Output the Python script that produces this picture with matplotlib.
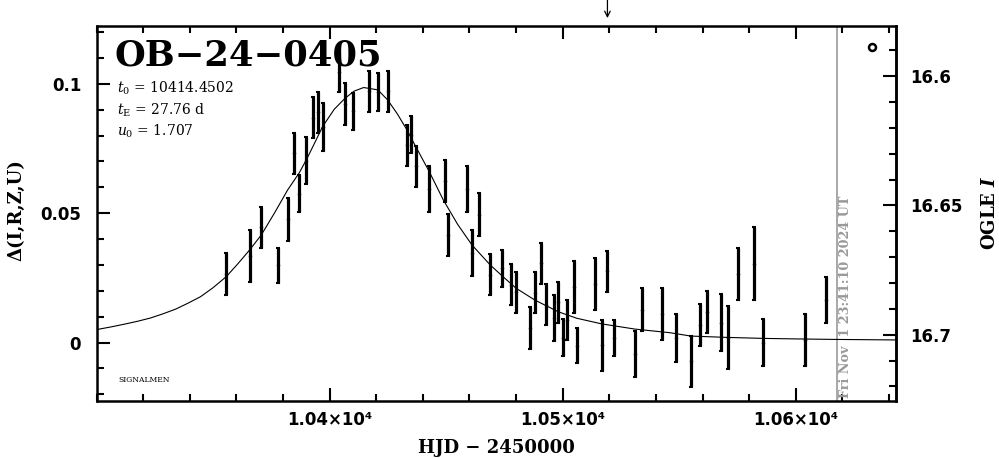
import matplotlib

matplotlib.use("Agg")
import matplotlib.pyplot as plt
from matplotlib.ticker import FixedLocator, MultipleLocator, FuncFormatter

# photometry (HJD - 2450000, delta flux, error)
hjd = [10355.7, 10365.7, 10370.7, 10377.9, 10382.0, 10384.9, 10386.9, 10390.0,
       10392.9, 10395.0, 10397.0, 10403.9, 10406.7, 10409.9, 10417.0, 10420.7,
       10424.9, 10433.2, 10434.9, 10437.0, 10442.8, 10449.3, 10451.0, 10459.1,
       10464.0, 10461.1, 10468.9, 10474.1, 10477.9, 10480.0, 10486.1, 10488.1,
       10490.8, 10492.7, 10496.1, 10498.1, 10500.0, 10502.0, 10504.8, 10506.0,
       10513.8, 10516.8, 10519.1, 10522.0, 10531.0, 10534.1, 10542.8, 10548.8,
       10555.0, 10559.1, 10562.1, 10568.1, 10571.0, 10575.0, 10582.1, 10586.0,
       10604.1, 10612.8]
delta = [0.0265, 0.0335, 0.0446, 0.0298, 0.0476, 0.0732, 0.0576, 0.0703,
         0.0870, 0.0890, 0.0834, 0.1046, 0.0922, 0.0894, 0.0972, 0.0969,
         0.0971, 0.0762, 0.0803, 0.0682, 0.0593, 0.0625, 0.0416, 0.0595,
         0.0494, 0.0347, 0.0263, 0.0287, 0.0224, 0.0195, 0.0056, 0.0193,
         0.0306, 0.0147, 0.0095, 0.0156, 0.0019, 0.0087, 0.0215, -0.0012,
         0.0227, -0.0011, 0.0275, 0.0018, -0.0043, 0.0127, 0.0109, 0.0016,
         -0.0072, 0.0067, 0.0117, 0.0077, 0.0019, 0.0264, 0.0305, 0.0000,
         0.0009, 0.0164]
err = [0.0081, 0.0100, 0.0079, 0.0069, 0.0083, 0.0080, 0.0072, 0.0091,
       0.0080, 0.0080, 0.0092, 0.0077, 0.0081, 0.0072, 0.0079, 0.0072,
       0.0080, 0.0079, 0.0071, 0.0079, 0.0090, 0.0081, 0.0081, 0.0089,
       0.0083, 0.0090, 0.0079, 0.0071, 0.0079, 0.0079, 0.0082, 0.0080,
       0.0080, 0.0079, 0.0089, 0.0079, 0.0071, 0.0077, 0.0102, 0.0069,
       0.0101, 0.0098, 0.0080, 0.0069, 0.0089, 0.0083, 0.0100, 0.0093,
       0.0099, 0.0081, 0.0082, 0.0110, 0.0122, 0.0100, 0.0141, 0.0090,
       0.0100, 0.0090]

# model curve
model_t = [10300.0, 10306.0, 10312.5, 10318.0, 10323.2, 10328.5, 10333.9,
           10339.0, 10344.6, 10350.0, 10355.7, 10360.5, 10365.7, 10370.7,
           10376.5, 10382.0, 10386.9, 10390.0, 10393.5, 10397.0, 10402.0,
           10406.7, 10410.5, 10414.6, 10420.7, 10424.9, 10429.0, 10433.2,
           10437.0, 10442.8, 10448.8, 10455.0, 10461.1, 10468.9, 10474.1,
           10480.0, 10488.1, 10498.1, 10506.0, 10516.8, 10531.0, 10546.0,
           10555.0, 10570.0, 10586.0, 10600.0, 10617.4, 10642.8]
model_d = [0.0050, 0.0060, 0.0072, 0.0083, 0.0095, 0.0111, 0.0129, 0.0151,
           0.0177, 0.0212, 0.0255, 0.0303, 0.0358, 0.0416, 0.0503, 0.0590,
           0.0655, 0.0706, 0.0770, 0.0835, 0.0902, 0.0945, 0.0972, 0.0986,
           0.0977, 0.0938, 0.0885, 0.0822, 0.0757, 0.0660, 0.0551, 0.0456,
           0.0377, 0.0300, 0.0257, 0.0210, 0.0164, 0.0119, 0.0094, 0.0072,
           0.0052, 0.0038, 0.0025, 0.0020, 0.0016, 0.0014, 0.0012, 0.0010]

event = "OB\u221224\u22120405"
params = [r"$t_0$ = 10414.4502", r"$t_{\rm E}$ = 27.76 d", r"$u_0$ = 1.707"]
now_hjd = 10617.5
now_label = "Fri Nov  1 23:41:10 2024 UT"
arrow_hjd = 10519.2
I_base = 16.703

plt.rcParams["mathtext.fontset"] = "dejavuserif"
SERIF = "DejaVu Serif"

fig = plt.figure(figsize=(9.99, 4.59), dpi=100)
ax = fig.add_axes([0.0966, 0.1264, 0.8003, 0.8170])

ax.plot(model_t, model_d, color="k", lw=0.8, zorder=2)
ax.errorbar(hjd, delta, yerr=err, fmt="none", ecolor="k", elinewidth=2.3,
            capsize=1.5, capthick=1.5, zorder=3)
ax.plot(hjd, delta, "k.", ms=3, zorder=4)

ax.axvline(now_hjd, color="#999999", lw=1.2, zorder=1)
ax.text(now_hjd + 1.0, -0.0215, now_label, rotation=90, color="#999999",
        family=SERIF, weight="bold", fontsize=9.2, ha="left", va="bottom")

ax.set_xlim(10300, 10643)
ax.set_ylim(-0.0226, 0.1224)

ax.xaxis.set_major_locator(FixedLocator([10400, 10500, 10600]))
ax.xaxis.set_minor_locator(MultipleLocator(20))
ax.xaxis.set_major_formatter(FuncFormatter(lambda v, p: f"{v / 1e4:.2f}\u00d710\u2074"))
ax.yaxis.set_major_locator(FixedLocator([0, 0.05, 0.1]))
ax.yaxis.set_minor_locator(MultipleLocator(0.01))
ax.yaxis.set_major_formatter(FuncFormatter(lambda v, p: f"{v:g}"))

ax.tick_params(which="both", direction="in", width=1.5, top=True, right=False,
               labelsize=12)
ax.tick_params(which="major", length=9.5)
ax.tick_params(which="minor", length=5)
ax.tick_params(axis="y", pad=11)
ax.tick_params(axis="x", pad=7)
for lab in ax.get_xticklabels() + ax.get_yticklabels():
    lab.set_fontweight("bold")
for s in ax.spines.values():
    s.set_linewidth(1.8)

sec = ax.secondary_yaxis("right", functions=(lambda d: I_base - d,
                                             lambda m: I_base - m))
sec.yaxis.set_major_locator(FixedLocator([16.6, 16.65, 16.7]))
sec.yaxis.set_minor_locator(MultipleLocator(0.01))
sec.yaxis.set_major_formatter(FuncFormatter(lambda v, p: f"{v:g}"))
sec.tick_params(which="both", direction="in", width=1.5, labelsize=12, pad=10)
sec.tick_params(which="major", length=9.5)
sec.tick_params(which="minor", length=5)
sec.spines["right"].set_linewidth(1.8)
for lab in sec.get_yticklabels():
    lab.set_fontweight("bold")

# labels
fig.text(114 / 999, 1 - 55 / 459, event, family=SERIF, weight="bold",
         fontsize=25.5, ha="left", va="center")
for i, line in enumerate(params):
    fig.text(117 / 999, 1 - (88 + 21.8 * i) / 459, line, family=SERIF,
             fontsize=10, ha="left", va="center")
fig.text(118 / 999, 1 - 380 / 459, "SIGNALMEN", family=SERIF, fontsize=5.5,
         ha="left", va="center")
ax.plot([0.970], [0.944], "o", ms=5, mfc="none", mec="k", mew=1.8,
        transform=ax.transAxes, clip_on=False)

fig.text(16 / 999, 1 - 210 / 459, "\u0394(I,R,Z,U)", family=SERIF,
         weight="bold", fontsize=13, rotation=90, ha="center", va="center")
fig.text(990 / 999, 1 - 213 / 459, r"OGLE $\mathbfit{I}$", family=SERIF,
         weight="bold", fontsize=13, rotation=90, ha="center", va="center")
fig.text(496 / 999, 1 - 448 / 459, "HJD \u2212 2450000", family=SERIF,
         weight="bold", fontsize=13, ha="center", va="center")

ax.annotate("", xy=(arrow_hjd, 1.021), xytext=(arrow_hjd, 1.07),
            xycoords=("data", "axes fraction"),
            arrowprops=dict(arrowstyle="->", color="k", lw=0.9,
                            shrinkA=0, shrinkB=0))

fig.savefig("out.png", dpi=100)
